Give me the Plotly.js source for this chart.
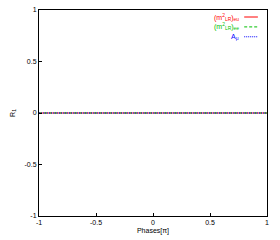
<!DOCTYPE html>
<html><head><meta charset="utf-8">
<script src="https://cdn.plot.ly/plotly-3.0.1.min.js"></script>
<style>html,body{margin:0;padding:0;background:#fff}#c{width:280px;height:240px}</style>
</head><body><div id="c"></div>
<script>
var phases = [-1, -0.5, 0, 0.5, 1];
var m2LR_eu = [0, 0, 0, 0, 0];
var m2LR_ee = [0, 0, 0, 0, 0];
var A_mu = [0, 0, 0, 0, 0];
var seriesNames = ['(m<sup>2</sup><sub>LR</sub>)<sub>eu</sub>', '(m<sup>2</sup><sub>LR</sub>)<sub>ee</sub>', 'A<sub>μ</sub>'];
var xTicks = [-1, -0.5, 0, 0.5, 1];
var xTickText = ['-1', '-0.5', '0', '0.5', '1'];
var yTicks = [-1, -0.5, 0, 0.5, 1];
var yTickText = ['-1', '-0.5', '0', '0.5', '1'];

var colors = ['#ff0000', '#00c000', '#0000ff'];
var dashes = ['solid', '3px,2px', '1px,1px'];
var ys = [m2LR_eu, m2LR_ee, A_mu];
var traces = ys.map(function(y, i){
  return {x: phases, y: y, mode: 'lines', name: seriesNames[i], showlegend: false,
    line: {color: colors[i], width: 1, dash: dashes[i]}};
});
var legY = [0.966, 0.918, 0.87];
var annotations = [], shapes = [];
seriesNames.forEach(function(n, i){
  annotations.push({xref:'paper', yref:'paper', x:0.885, y:legY[i], text:n, showarrow:false,
    xanchor:'right', yanchor:'middle', font:{family:'Liberation Sans', size:7, color:colors[i]}});
  shapes.push({type:'line', xref:'paper', yref:'paper', x0:0.9, x1:0.96, y0:legY[i], y1:legY[i],
    line:{color:colors[i], width:1, dash:dashes[i]}});
});
var layout = {
  width: 280, height: 240,
  margin: {l: 39, r: 13, t: 10, b: 24},
  paper_bgcolor: '#fff', plot_bgcolor: '#fff',
  showlegend: false,
  font: {family: 'Liberation Sans', size: 7, color: '#000'},
  xaxis: {range: [-1, 1], tickvals: xTicks, ticktext: xTickText, ticks: 'inside', ticklen: 3,
    tickcolor: '#000', showgrid: false, zeroline: false, showline: true, mirror: true,
    linecolor: '#000', linewidth: 1, tickfont: {size: 7, color: '#000'},
    title: {text: 'Phases[π]', font: {size: 7, color: '#000'}, standoff: 2}},
  yaxis: {range: [-1, 1], tickvals: yTicks, ticktext: yTickText, ticks: 'inside', ticklen: 3,
    tickcolor: '#000', showgrid: false, zeroline: false, showline: true, mirror: true,
    linecolor: '#000', linewidth: 1, tickfont: {size: 7, color: '#000'},
    title: {text: 'R<sub>1</sub>', font: {size: 7, color: '#000'}, standoff: 8}},
  annotations: annotations, shapes: shapes
};
Plotly.newPlot('c', traces, layout, {staticPlot: true, displayModeBar: false});
</script></body></html>
